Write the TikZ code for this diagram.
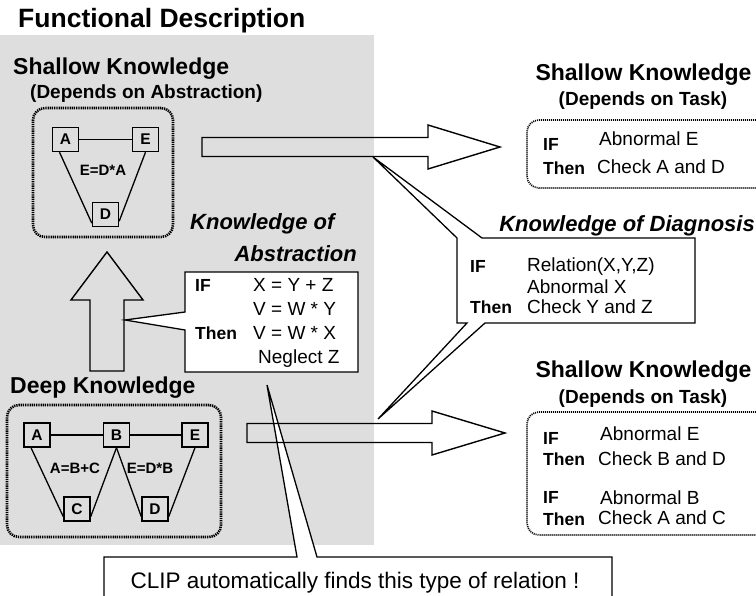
\documentclass[tikz,border=0pt]{standalone}
\usepackage{fontspec}
\setmainfont{Liberation Sans}
\usetikzlibrary{calc}
\tikzset{
  txt/.style={inner sep=0pt, anchor=base west},
  titlefont/.style={txt, font=\fontsize{26.5}{30}\selectfont\bfseries},
  hdA/.style={txt, font=\fontsize{23}{27}\selectfont\bfseries},
  subhd/.style={txt, font=\fontsize{19}{22}\selectfont\bfseries},
  kw/.style={txt, font=\fontsize{17.5}{20}\selectfont\bfseries},
  bodytxt/.style={txt, font=\fontsize{19}{22}\selectfont},
  ital/.style={txt, font=\fontsize{22}{26}\selectfont\bfseries\itshape},
  letterbox/.style={draw, line width=1.4pt, minimum width=26pt, minimum height=24pt, inner sep=0pt, font=\fontsize{15.5}{15.5}\selectfont\bfseries},
  eqlabel/.style={inner sep=0pt, font=\fontsize{15}{15}\selectfont\bfseries},
  dotbox/.style={draw, line width=2.6pt, dash pattern=on 1.3pt off 0.9pt, rounded corners=12pt, inner sep=0pt},
  dotboxthin/.style={draw, line width=1.7pt, dash pattern=on 1pt off 1pt, rounded corners=12pt, inner sep=0pt},
  thinline/.style={line width=1.3pt},
  outline/.style={line width=1.4pt, line join=miter},
}
\begin{document}
\begin{tikzpicture}[x=1pt,y=-1pt]
\useasboundingbox (0,0) rectangle (756,596);
% stippled background
\fill[black!13] (0,35) rectangle (374,545);

% title
\node[titlefont] (title) at (18,28) {Functional Description};

% ---------- upper left: shallow knowledge (abstraction)
\node[hdA] (sk1) at (13,75) {Shallow Knowledge};
\node[subhd] (dep1) at (30,99) {(Depends on Abstraction)};
\node[dotbox, minimum width=140pt, minimum height=129pt] (box1) at (103,172.5) {};
\node[letterbox] (a1) at (65.5,139.5) {A};
\node[letterbox] (e1) at (145.5,139.5) {E};
\node[letterbox] (d1) at (105.5,214.5) {D};
\draw[thinline] (a1) -- (e1);
\draw[thinline] ([xshift=-6pt]a1.south) -- ([yshift=4pt]d1.south west);
\draw[thinline] (e1.south) -- ([yshift=6pt]d1.south east);
\node[eqlabel] (eq1) at (103,170) {E=D*A};

% ---------- CLIP callout (drawn early so arrows lie over it)
\coordinate (cliptip) at (267,385);
\draw[thinline, fill=white] (104,605) -- (104,557) -- (297,557) -- (cliptip) -- (317,557) -- (612,557) -- (612,605);
\node[inner sep=0pt, anchor=base, font=\fontsize{22.5}{26}\selectfont] (cliptxt) at (355,588) {CLIP automatically finds this type of relation !};

% ---------- diagnosis callout
\coordinate (dtip1) at (373,157);
\coordinate (dtip2) at (378,419);
\draw[thinline, fill=white, line join=miter] (482,238) -- (695,238) -- (695,323) -- (485,323) -- (dtip2) -- (467,323) -- (457,323) -- (457,238) -- (dtip1) -- cycle;
\node[ital, anchor=base east] (kod) at (755,232) {Knowledge of Diagnosis};
\node[kw] (dif) at (470,273) {IF};
\node[bodytxt] (d1t) at (527,272) {Relation(X,Y,Z)};
\node[bodytxt] (d2t) at (527,294) {Abnormal X};
\node[kw] (dthen) at (470,314) {Then};
\node[bodytxt] (d3t) at (527,314) {Check Y and Z};

% ---------- upper hollow arrow
\draw[outline] (202,137.5) -- (428,137.5) -- (428,125) -- (500,147) -- (428,169) -- (428,156.5) -- (202,156.5) -- cycle;

% ---------- upper right shallow knowledge (task)
\node[hdA, anchor=base] (sk2) at (643.5,81) {Shallow Knowledge};
\node[subhd, anchor=base] (dep2) at (643,106) {(Depends on Task)};
\node[dotboxthin, minimum width=243pt, minimum height=68pt] (box2) at (648.5,154) {};
\node[kw] (r1if) at (543,151) {IF};
\node[bodytxt] (r1a) at (599,146) {Abnormal E};
\node[kw] (r1then) at (543,175) {Then};
\node[bodytxt] (r1b) at (597,174) {Check A and D};

% ---------- knowledge of abstraction
\node[ital] (koa1) at (190,230) {Knowledge of};
\node[ital, anchor=base east] (koa2) at (357,262) {Abstraction};
\coordinate (atip) at (125,320);
\draw[thinline, fill=white, line join=miter] (185,272) -- (358,272) -- (358,372) -- (185,372) -- (185,330) -- (atip) -- (185,312) -- cycle;
\node[kw] (aif) at (195,292) {IF};
\node[bodytxt] (ax1) at (253,292) {X = Y + Z};
\node[bodytxt] (ax2) at (253,316) {V = W * Y};
\node[kw] (athen) at (195,340) {Then};
\node[bodytxt] (ax3) at (253,340) {V = W * X};
\node[bodytxt] (ax4) at (258,363) {Neglect Z};

% ---------- upward hollow arrow
\draw[outline] (107,252) -- (143,300) -- (124,300) -- (124,371) -- (90,371) -- (90,300) -- (71,300) -- cycle;

% ---------- deep knowledge
\node[hdA] (dk) at (10,394) {Deep Knowledge};
\node[dotbox, minimum width=214pt, minimum height=132pt] (box3) at (114,471) {};
\node[letterbox] (a2) at (37,435) {A};
\node[letterbox] (b2) at (116.5,435) {B};
\node[letterbox] (e2) at (195,435) {E};
\node[letterbox] (c2) at (77,509) {C};
\node[letterbox] (d2) at (155,509) {D};
\draw[thinline] (a2) -- (b2);
\draw[thinline] (b2) -- (e2);
\draw[thinline] ([xshift=-6pt]a2.south) -- ([yshift=5pt]c2.south west);
\draw[thinline] (b2.south) -- ([yshift=5pt]c2.south east);
\draw[thinline] (b2.south) -- ([yshift=5pt]d2.south west);
\draw[thinline] (e2.south) -- ([yshift=5pt]d2.south east);
\node[eqlabel] (eq2) at (75,468) {A=B+C};
\node[eqlabel] (eq3) at (150,468) {E=D*B};

% ---------- lower hollow arrow
\draw[outline] (247,423.5) -- (432,423.5) -- (432,411) -- (505,433) -- (432,455) -- (432,442.5) -- (247,442.5) -- cycle;

% ---------- lower right shallow knowledge (task)
\node[hdA, anchor=base] (sk3) at (643.5,378) {Shallow Knowledge};
\node[subhd, anchor=base] (dep3) at (643,403) {(Depends on Task)};
\node[dotboxthin, minimum width=243pt, minimum height=123pt] (box4) at (648.5,473.5) {};
\node[kw] (r2if) at (543,445) {IF};
\node[bodytxt] (r2a) at (600,440) {Abnormal E};
\node[kw] (r2then) at (543,465) {Then};
\node[bodytxt] (r2b) at (598,465) {Check B and D};
\node[kw] (r3if) at (543,503) {IF};
\node[bodytxt] (r3a) at (600,504) {Abnormal B};
\node[kw] (r3then) at (543,525) {Then};
\node[bodytxt] (r3b) at (598,524) {Check A and C};
\end{tikzpicture}
\end{document}
